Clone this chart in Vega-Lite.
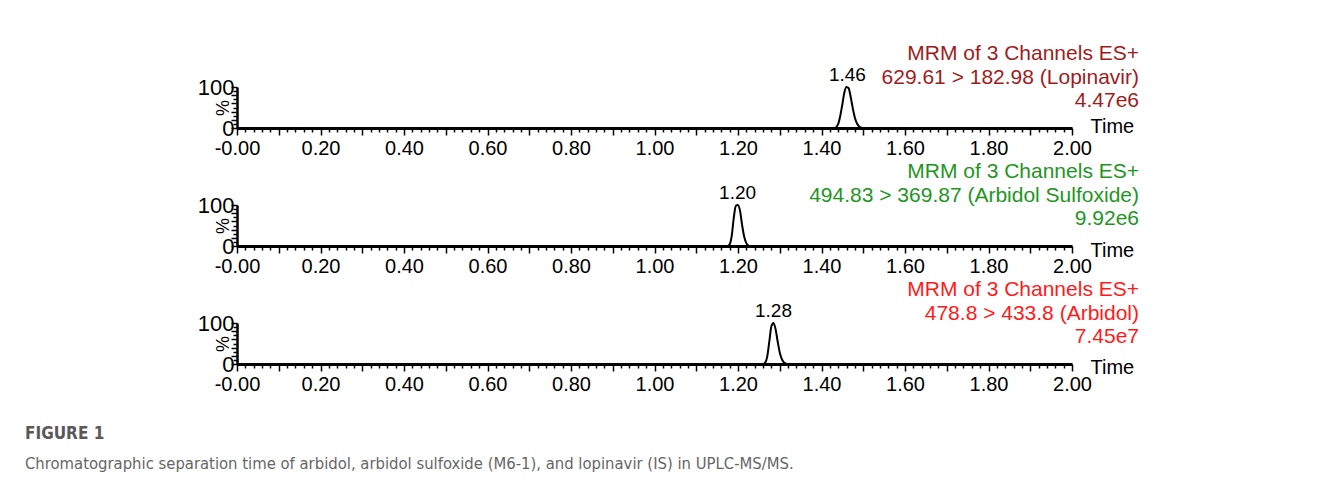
{
  "$schema": "https://vega.github.io/schema/vega-lite/v6.json",
  "background": "white",
  "padding": {"left": 25, "top": 43, "right": 5, "bottom": 10},
  "datasets": {
    "trace": [
      {"panel": "Lopinavir", "t": 0, "i": 0},
      {"panel": "Lopinavir", "t": 1.43, "i": 0},
      {"panel": "Lopinavir", "t": 1.435, "i": 2},
      {"panel": "Lopinavir", "t": 1.44, "i": 10},
      {"panel": "Lopinavir", "t": 1.445, "i": 30},
      {"panel": "Lopinavir", "t": 1.45, "i": 58},
      {"panel": "Lopinavir", "t": 1.455, "i": 88},
      {"panel": "Lopinavir", "t": 1.46, "i": 100},
      {"panel": "Lopinavir", "t": 1.465, "i": 97},
      {"panel": "Lopinavir", "t": 1.47, "i": 75},
      {"panel": "Lopinavir", "t": 1.475, "i": 48},
      {"panel": "Lopinavir", "t": 1.48, "i": 25},
      {"panel": "Lopinavir", "t": 1.485, "i": 11},
      {"panel": "Lopinavir", "t": 1.49, "i": 4},
      {"panel": "Lopinavir", "t": 1.495, "i": 1},
      {"panel": "Lopinavir", "t": 1.5, "i": 0},
      {"panel": "Lopinavir", "t": 2, "i": 0},
      {"panel": "Sulfoxide", "t": 0, "i": 0},
      {"panel": "Sulfoxide", "t": 1.175, "i": 0},
      {"panel": "Sulfoxide", "t": 1.18, "i": 4},
      {"panel": "Sulfoxide", "t": 1.185, "i": 25},
      {"panel": "Sulfoxide", "t": 1.19, "i": 70},
      {"panel": "Sulfoxide", "t": 1.195, "i": 98},
      {"panel": "Sulfoxide", "t": 1.2, "i": 100},
      {"panel": "Sulfoxide", "t": 1.205, "i": 85},
      {"panel": "Sulfoxide", "t": 1.21, "i": 50},
      {"panel": "Sulfoxide", "t": 1.215, "i": 22},
      {"panel": "Sulfoxide", "t": 1.22, "i": 7},
      {"panel": "Sulfoxide", "t": 1.225, "i": 1},
      {"panel": "Sulfoxide", "t": 1.23, "i": 0},
      {"panel": "Sulfoxide", "t": 2, "i": 0},
      {"panel": "Arbidol", "t": 0, "i": 0},
      {"panel": "Arbidol", "t": 1.26, "i": 0},
      {"panel": "Arbidol", "t": 1.265, "i": 3},
      {"panel": "Arbidol", "t": 1.27, "i": 18},
      {"panel": "Arbidol", "t": 1.275, "i": 55},
      {"panel": "Arbidol", "t": 1.28, "i": 92},
      {"panel": "Arbidol", "t": 1.285, "i": 100},
      {"panel": "Arbidol", "t": 1.29, "i": 85},
      {"panel": "Arbidol", "t": 1.295, "i": 55},
      {"panel": "Arbidol", "t": 1.3, "i": 28},
      {"panel": "Arbidol", "t": 1.305, "i": 12},
      {"panel": "Arbidol", "t": 1.31, "i": 4},
      {"panel": "Arbidol", "t": 1.315, "i": 1},
      {"panel": "Arbidol", "t": 1.32, "i": 0},
      {"panel": "Arbidol", "t": 2, "i": 0}
    ],
    "peaks": [
      {"panel": "Lopinavir", "rt": 1.462, "label": "1.46"},
      {"panel": "Sulfoxide", "rt": 1.199, "label": "1.20"},
      {"panel": "Arbidol", "rt": 1.285, "label": "1.28"}
    ],
    "info": [
      {"panel": "Lopinavir", "text": "MRM of 3 Channels ES+\n629.61 > 182.98 (Lopinavir)\n4.47e6"},
      {"panel": "Sulfoxide", "text": "MRM of 3 Channels ES+\n494.83 > 369.87 (Arbidol Sulfoxide)\n9.92e6"},
      {"panel": "Arbidol", "text": "MRM of 3 Channels ES+\n478.8 > 433.8 (Arbidol)\n7.45e7"}
    ]
  },
  "title": {
    "text": "FIGURE 1",
    "subtitle": "Chromatographic separation time of arbidol, arbidol sulfoxide (M6-1), and lopinavir (IS) in UPLC-MS/MS.",
    "orient": "bottom",
    "anchor": "start",
    "frame": "group",
    "dx": -212,
    "offset": 32,
    "font": "Liberation Sans Narrow, DejaVu Sans Condensed, Open Sans",
    "fontSize": 17,
    "fontWeight": 600,
    "color": "#595959",
    "subtitleFont": "Liberation Sans Narrow, DejaVu Sans Condensed, Open Sans",
    "subtitleFontSize": 16.5,
    "subtitleColor": "#666666",
    "subtitlePadding": 13
  },
  "spacing": 77,
  "bounds": "flush",
  "vconcat": [
    {
      "width": 835,
      "height": 41,
      "layer": [
        {
          "data": {"name": "trace"},
          "transform": [{"filter": "datum.panel == 'Lopinavir'"}],
          "mark": {"type": "line", "color": "black", "strokeWidth": 2, "interpolate": "monotone"},
          "encoding": {
            "x": {"field": "t", "type": "quantitative", "scale": {"domain": [0, 2], "nice": false, "zero": false},
              "axis": {
                "values": [0,0.02,0.04,0.06,0.08,0.1,0.12,0.14,0.16,0.18,0.2,0.22,0.24,0.26,0.28,0.3,0.32,0.34,0.36,0.38,0.4,0.42,0.44,0.46,0.48,0.5,0.52,0.54,0.56,0.58,0.6,0.62,0.64,0.66,0.68,0.7,0.72,0.74,0.76,0.78,0.8,0.82,0.84,0.86,0.88,0.9,0.92,0.94,0.96,0.98,1,1.02,1.04,1.06,1.08,1.1,1.12,1.14,1.16,1.18,1.2,1.22,1.24,1.26,1.28,1.3,1.32,1.34,1.36,1.38,1.4,1.42,1.44,1.46,1.48,1.5,1.52,1.54,1.56,1.58,1.6,1.62,1.64,1.66,1.68,1.7,1.72,1.74,1.76,1.78,1.8,1.82,1.84,1.86,1.88,1.9,1.92,1.94,1.96,1.98,2],
                "tickCount": 200,
                "labelExpr": "abs(round(datum.value*100) % 20) == 0 ? (datum.value == 0 ? '-0.00' : format(datum.value, '.2f')) : ''",
                "tickSize": {"condition": {"test": "abs(round(datum.value*100) % 10) == 0", "value": 7}, "value": 4},
                "title": "Time", "titleX": 853, "titleY": -2
              }
            },
            "y": {"field": "i", "type": "quantitative", "scale": {"domain": [0, 100], "nice": false},
              "axis": {
                "values": [0,10,20,30,40,50,60,70,80,90,100],
                "tickCount": 50,
                "labelExpr": "datum.value == 0 || datum.value == 100 ? datum.label : ''",
                "tickSize": {"condition": {"test": "datum.value % 20 == 0", "value": 6}, "value": 4},
                "title": "%"
              }
            }
          }
        },
        {
          "data": {"name": "peaks"},
          "transform": [{"filter": "datum.panel == 'Lopinavir'"}],
          "mark": {"type": "text", "baseline": "bottom", "dy": -2, "fontSize": 19, "font": "Liberation Sans", "color": "black"},
          "encoding": {
            "x": {"field": "rt", "type": "quantitative"},
            "y": {"datum": 100, "type": "quantitative"},
            "text": {"field": "label"}
          }
        },
        {
          "data": {"name": "info"},
          "transform": [{"filter": "datum.panel == 'Lopinavir'"}],
          "mark": {"type": "text", "align": "right", "baseline": "top", "dx": 67, "dy": -44, "lineBreak": "\n", "lineHeight": 23.5, "fontSize": 21, "font": "Liberation Sans", "color": "#a01c1c"},
          "encoding": {
            "x": {"datum": 2, "type": "quantitative"},
            "y": {"datum": 100, "type": "quantitative"},
            "text": {"field": "text"}
          }
        }
      ]
    },
    {
      "width": 835,
      "height": 41,
      "layer": [
        {
          "data": {"name": "trace"},
          "transform": [{"filter": "datum.panel == 'Sulfoxide'"}],
          "mark": {"type": "line", "color": "black", "strokeWidth": 2, "interpolate": "monotone"},
          "encoding": {
            "x": {"field": "t", "type": "quantitative", "scale": {"domain": [0, 2], "nice": false, "zero": false},
              "axis": {
                "values": [0,0.02,0.04,0.06,0.08,0.1,0.12,0.14,0.16,0.18,0.2,0.22,0.24,0.26,0.28,0.3,0.32,0.34,0.36,0.38,0.4,0.42,0.44,0.46,0.48,0.5,0.52,0.54,0.56,0.58,0.6,0.62,0.64,0.66,0.68,0.7,0.72,0.74,0.76,0.78,0.8,0.82,0.84,0.86,0.88,0.9,0.92,0.94,0.96,0.98,1,1.02,1.04,1.06,1.08,1.1,1.12,1.14,1.16,1.18,1.2,1.22,1.24,1.26,1.28,1.3,1.32,1.34,1.36,1.38,1.4,1.42,1.44,1.46,1.48,1.5,1.52,1.54,1.56,1.58,1.6,1.62,1.64,1.66,1.68,1.7,1.72,1.74,1.76,1.78,1.8,1.82,1.84,1.86,1.88,1.9,1.92,1.94,1.96,1.98,2],
                "tickCount": 200,
                "labelExpr": "abs(round(datum.value*100) % 20) == 0 ? (datum.value == 0 ? '-0.00' : format(datum.value, '.2f')) : ''",
                "tickSize": {"condition": {"test": "abs(round(datum.value*100) % 10) == 0", "value": 7}, "value": 4},
                "title": "Time", "titleX": 853, "titleY": 4
              }
            },
            "y": {"field": "i", "type": "quantitative", "scale": {"domain": [0, 100], "nice": false},
              "axis": {
                "values": [0,10,20,30,40,50,60,70,80,90,100],
                "tickCount": 50,
                "labelExpr": "datum.value == 0 || datum.value == 100 ? datum.label : ''",
                "tickSize": {"condition": {"test": "datum.value % 20 == 0", "value": 6}, "value": 4},
                "title": "%"
              }
            }
          }
        },
        {
          "data": {"name": "peaks"},
          "transform": [{"filter": "datum.panel == 'Sulfoxide'"}],
          "mark": {"type": "text", "baseline": "bottom", "dy": -2, "fontSize": 19, "font": "Liberation Sans", "color": "black"},
          "encoding": {
            "x": {"field": "rt", "type": "quantitative"},
            "y": {"datum": 100, "type": "quantitative"},
            "text": {"field": "label"}
          }
        },
        {
          "data": {"name": "info"},
          "transform": [{"filter": "datum.panel == 'Sulfoxide'"}],
          "mark": {"type": "text", "align": "right", "baseline": "top", "dx": 67, "dy": -44, "lineBreak": "\n", "lineHeight": 23.5, "fontSize": 21, "font": "Liberation Sans", "color": "#1e961e"},
          "encoding": {
            "x": {"datum": 2, "type": "quantitative"},
            "y": {"datum": 100, "type": "quantitative"},
            "text": {"field": "text"}
          }
        }
      ]
    },
    {
      "width": 835,
      "height": 41,
      "layer": [
        {
          "data": {"name": "trace"},
          "transform": [{"filter": "datum.panel == 'Arbidol'"}],
          "mark": {"type": "line", "color": "black", "strokeWidth": 2, "interpolate": "monotone"},
          "encoding": {
            "x": {"field": "t", "type": "quantitative", "scale": {"domain": [0, 2], "nice": false, "zero": false},
              "axis": {
                "values": [0,0.02,0.04,0.06,0.08,0.1,0.12,0.14,0.16,0.18,0.2,0.22,0.24,0.26,0.28,0.3,0.32,0.34,0.36,0.38,0.4,0.42,0.44,0.46,0.48,0.5,0.52,0.54,0.56,0.58,0.6,0.62,0.64,0.66,0.68,0.7,0.72,0.74,0.76,0.78,0.8,0.82,0.84,0.86,0.88,0.9,0.92,0.94,0.96,0.98,1,1.02,1.04,1.06,1.08,1.1,1.12,1.14,1.16,1.18,1.2,1.22,1.24,1.26,1.28,1.3,1.32,1.34,1.36,1.38,1.4,1.42,1.44,1.46,1.48,1.5,1.52,1.54,1.56,1.58,1.6,1.62,1.64,1.66,1.68,1.7,1.72,1.74,1.76,1.78,1.8,1.82,1.84,1.86,1.88,1.9,1.92,1.94,1.96,1.98,2],
                "tickCount": 200,
                "labelExpr": "abs(round(datum.value*100) % 20) == 0 ? (datum.value == 0 ? '-0.00' : format(datum.value, '.2f')) : ''",
                "tickSize": {"condition": {"test": "abs(round(datum.value*100) % 10) == 0", "value": 7}, "value": 4},
                "title": "Time", "titleX": 853, "titleY": 3
              }
            },
            "y": {"field": "i", "type": "quantitative", "scale": {"domain": [0, 100], "nice": false},
              "axis": {
                "values": [0,10,20,30,40,50,60,70,80,90,100],
                "tickCount": 50,
                "labelExpr": "datum.value == 0 || datum.value == 100 ? datum.label : ''",
                "tickSize": {"condition": {"test": "datum.value % 20 == 0", "value": 6}, "value": 4},
                "title": "%"
              }
            }
          }
        },
        {
          "data": {"name": "peaks"},
          "transform": [{"filter": "datum.panel == 'Arbidol'"}],
          "mark": {"type": "text", "baseline": "bottom", "dy": -2, "fontSize": 19, "font": "Liberation Sans", "color": "black"},
          "encoding": {
            "x": {"field": "rt", "type": "quantitative"},
            "y": {"datum": 100, "type": "quantitative"},
            "text": {"field": "label"}
          }
        },
        {
          "data": {"name": "info"},
          "transform": [{"filter": "datum.panel == 'Arbidol'"}],
          "mark": {"type": "text", "align": "right", "baseline": "top", "dx": 67, "dy": -44, "lineBreak": "\n", "lineHeight": 23.5, "fontSize": 21, "font": "Liberation Sans", "color": "#ff1a1a"},
          "encoding": {
            "x": {"datum": 2, "type": "quantitative"},
            "y": {"datum": 100, "type": "quantitative"},
            "text": {"field": "text"}
          }
        }
      ]
    }
  ],
  "config": {
    "font": "Liberation Sans",
    "view": {"stroke": null},
    "axisX": {
      "grid": false,
      "domainColor": "black",
      "domainWidth": 3,
      "tickColor": "black",
      "tickWidth": 1.5,
      "labelFont": "Liberation Sans",
      "labelFontSize": 20,
      "labelColor": "black",
      "labelPadding": 3,
      "labelOverlap": false,
      "labelFlush": false,
      "titleFont": "Liberation Sans",
      "titleFontSize": 20,
      "titleFontWeight": "normal",
      "titleColor": "black",
      "titleAlign": "left",
      "titleBaseline": "middle",
      "titleAnchor": null
    },
    "axisY": {
      "grid": false,
      "domainColor": "black",
      "domainWidth": 2.5,
      "tickColor": "black",
      "tickWidth": 1.5,
      "labelFont": "Liberation Sans",
      "labelFontSize": 22,
      "labelColor": "black",
      "labelPadding": -3,
      "labelOverlap": false,
      "labelFlush": false,
      "titleFont": "Liberation Sans",
      "titleFontSize": 18,
      "titleFontWeight": "normal",
      "titleColor": "black",
      "titleX": -14,
      "titleY": 20.5,
      "titleAngle": 270,
      "titleAlign": "center",
      "titleBaseline": "middle"
    }
  }
}
